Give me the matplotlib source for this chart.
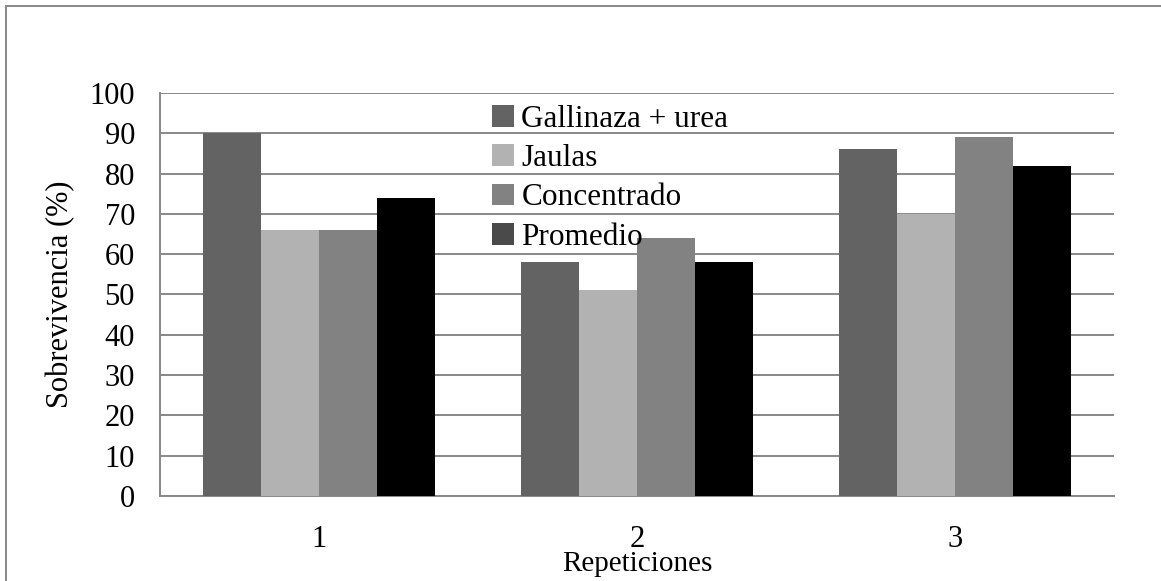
import matplotlib
matplotlib.use("Agg")
import matplotlib.pyplot as plt
import numpy as np
from matplotlib.patches import Patch, Rectangle

# Data
repeticiones = ["1", "2", "3"]
series_names = ["Gallinaza + urea", "Jaulas", "Concentrado", "Promedio"]
gallinaza = [90, 58, 86]
jaulas = [66, 51, 70]
concentrado = [66, 64, 89]
promedio = [74, 58, 82]
yticks = [0, 10, 20, 30, 40, 50, 60, 70, 80, 90, 100]

bar_colors = ["#636363", "#b2b2b2", "#828282", "#000000"]
legend_colors = ["#636363", "#b2b2b2", "#828282", "#4a4a4a"]

plt.rcParams["font.family"] = ["Liberation Serif", "DejaVu Serif"]

fig = plt.figure(figsize=(11.61, 5.81), dpi=100)
ax = fig.add_axes([0.1378, 0.1463, 0.8217, 0.6937])

x = np.arange(len(repeticiones))
width = 0.182
values = [gallinaza, jaulas, concentrado, promedio]
for i, (vals, col) in enumerate(zip(values, bar_colors)):
    ax.bar(x + (i - 1.5) * width, vals, width, color=col, zorder=3)

ax.set_xlim(-0.5, len(repeticiones) - 0.5)
ax.set_ylim(0, 100)
ax.set_yticks(yticks)
ax.set_xticks(x)
ax.set_xticklabels(repeticiones)
ax.tick_params(axis="both", length=0, labelsize=22)
ax.tick_params(axis="x", pad=21)
ax.tick_params(axis="y", pad=18)
ax.grid(axis="y", color="#888888", linewidth=1.4, zorder=0)

for side in ["top", "right"]:
    ax.spines[side].set_visible(False)
for side in ["left", "bottom"]:
    ax.spines[side].set_color("#888888")
    ax.spines[side].set_linewidth(1.4)

ax.set_ylabel("Sobrevivencia (%)", fontsize=22, labelpad=10)
ax.set_xlabel("Repeticiones", fontsize=21, labelpad=-2)

handles = [Patch(facecolor=c) for c in legend_colors]
ax.legend(handles, series_names, loc="upper left", bbox_to_anchor=(0.328, 1.017),
          frameon=False, fontsize=22.5, handlelength=0.7, handleheight=0.7,
          handletextpad=0.25, labelspacing=0.33, borderaxespad=0.2)

# outer chart border
fig.patches.append(Rectangle((0.005, -0.02), 1.02, 1.01, transform=fig.transFigure,
                             fill=False, edgecolor="#888888", linewidth=1.4))

fig.savefig("out.png", dpi=100)
